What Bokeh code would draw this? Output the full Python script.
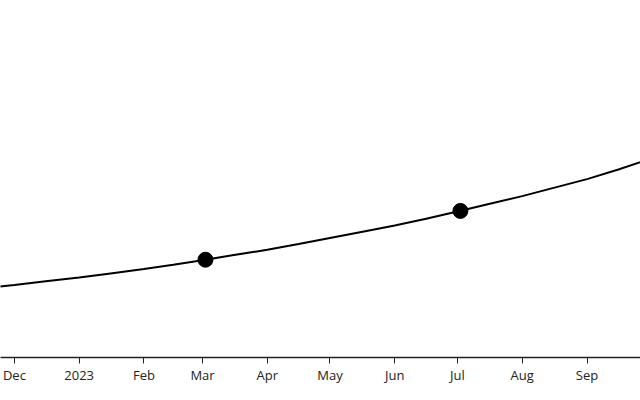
from datetime import datetime
from bokeh.plotting import figure
from bokeh.models import Range1d, FixedTicker, Label
from bokeh.embed import file_html
from bokeh.resources import INLINE

# Curve readings (arbitrary units), read roughly every half month
curve_dates = ["2022-11-24", "2022-12-01", "2022-12-16", "2023-01-01", "2023-01-16",
               "2023-02-01", "2023-02-15", "2023-03-01", "2023-03-16", "2023-04-01",
               "2023-04-16", "2023-05-01", "2023-05-16", "2023-06-01", "2023-06-16",
               "2023-07-01", "2023-07-16", "2023-08-01", "2023-08-16", "2023-09-01",
               "2023-09-16", "2023-10-01"]
curve_values = [71.0, 72.6, 76.2, 80.0, 84.1, 88.5, 92.8, 97.3, 102.4, 107.7,
                113.4, 119.5, 125.6, 132.0, 138.8, 146.0, 153.5, 161.4, 169.6, 178.4,
                188.0, 198.5]

# Marked points
point_dates = ["2023-03-02 10:00", "2023-07-02 10:00"]
point_values = [97.8, 146.6]

# Tick labels
tick_dates = ["2022-12-01", "2023-01-01", "2023-02-01", "2023-03-01", "2023-04-01",
              "2023-05-01", "2023-06-01", "2023-07-01", "2023-08-01", "2023-09-01",
              "2023-10-01"]
tick_labels = ["Dec", "2023", "Feb", "Mar", "Apr", "May", "Jun", "Jul", "Aug", "Sep", "Oct"]


def ms(s):
    fmt = "%Y-%m-%d %H:%M" if " " in s else "%Y-%m-%d"
    return datetime.strptime(s, fmt).timestamp() * 1000.0


x_start = datetime(2022, 11, 24, 8, 24).timestamp() * 1000.0
x_end = datetime(2023, 9, 26, 14, 0).timestamp() * 1000.0

p = figure(width=640, height=400, output_backend="svg", toolbar_location=None,
           x_range=Range1d(x_start, x_end), y_range=Range1d(0, 357),
           min_border_left=0, min_border_right=0, min_border_top=0, min_border_bottom=43)

p.line([ms(d) for d in curve_dates], curve_values, line_color="black", line_width=2)
p.scatter([ms(d) for d in point_dates], point_values, size=15, fill_color="black",
          line_color="black")

p.yaxis.visible = False
p.xgrid.visible = False
p.ygrid.visible = False
p.outline_line_color = None
p.background_fill_color = "white"
p.border_fill_color = "white"

ticks = [ms(d) for d in tick_dates]
ax = p.xaxis[0]
ax.ticker = FixedTicker(ticks=ticks)
ax.major_label_overrides = {t: lab for t, lab in zip(ticks, tick_labels)}
ax.axis_line_color = "#222222"
ax.axis_line_width = 1.3
ax.major_tick_line_color = "#222222"
ax.major_tick_out = 6
ax.major_tick_in = 0
ax.minor_tick_out = 0
ax.minor_tick_in = 0
ax.major_label_text_font = "Open Sans"
ax.major_label_text_font_size = "13px"
ax.major_label_text_color = "#222222"
ax.major_label_standoff = 2

# The last month label sits past the right edge and is only partly visible
p.add_layout(Label(x=ticks[-1], y=-19, y_units="screen", text=tick_labels[-1],
                   text_align="center", text_baseline="middle",
                   text_font="Open Sans", text_font_size="13px", text_color="#222222"))

open("out.html", "w").write(file_html(p, INLINE))
